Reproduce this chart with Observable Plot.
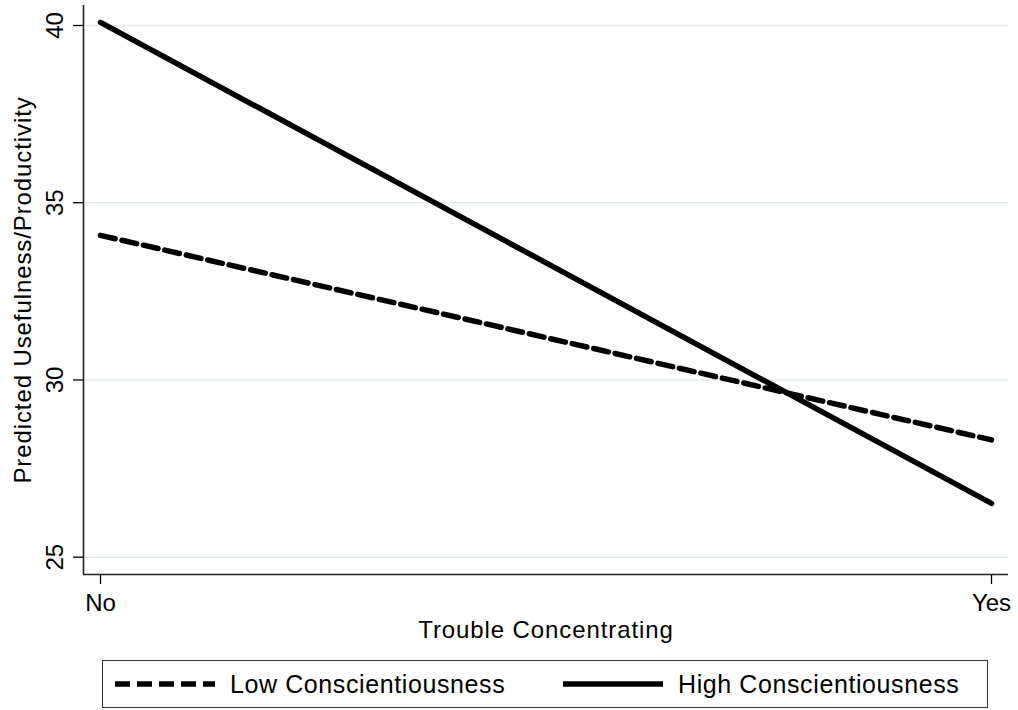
<!DOCTYPE html>
<html>
<head>
<meta charset="utf-8">
<script src="https://cdn.jsdelivr.net/npm/d3@7"></script>
<script src="https://cdn.jsdelivr.net/npm/@observablehq/plot@0.6"></script>
<style>
  html, body { margin: 0; padding: 0; background: #fff; }
  body { width: 1018px; height: 710px; position: relative; overflow: hidden; font-family: "Liberation Sans", Arial, Helvetica, sans-serif; }
  #legend { position: absolute; left: 102px; top: 660px; width: 886px; height: 48px; border: 1.5px solid #333; box-sizing: border-box; background: #fff; }
  #legend .item { position: absolute; top: 0; height: 100%; display: flex; align-items: center; }
  #legend .label { font-size: 25px; color: #000; margin-left: 15px; letter-spacing: 0.6px; }
</style>
</head>
<body>
<div id="chart"></div>
<div id="legend"></div>
<script>
// ---- data ----
const categories = ["No", "Yes"];
const seriesNames = ["Low Conscientiousness", "High Conscientiousness"];
const lowValues = [34.08, 28.31];
const highValues = [40.09, 26.52];
const yTicks = [25, 30, 35, 40];
const xTitle = "Trouble Concentrating";
const yTitle = "Predicted Usefulness/Productivity";

const rows = [];
categories.forEach((c, i) => {
  rows.push({series: seriesNames[0], idx: i, cat: c, value: lowValues[i]});
  rows.push({series: seriesNames[1], idx: i, cat: c, value: highValues[i]});
});
const lowRows = rows.filter(d => d.series === seriesNames[0]);
const highRows = rows.filter(d => d.series === seriesNames[1]);

const pad = 17 / 891;
const xDomain = [-pad, 1 + pad];
const yDomain = [24.512, 40.564];

const chart = Plot.plot({
  width: 1018,
  height: 645,
  marginTop: 5,
  marginBottom: 71,
  marginLeft: 83,
  marginRight: 10,
  style: {fontFamily: '"Liberation Sans", Arial, Helvetica, sans-serif', color: "#000", background: "#fff", overflow: "visible"},
  x: {domain: xDomain},
  y: {domain: yDomain},
  marks: [
    Plot.ruleY(yTicks, {stroke: "#e2ecf0", strokeWidth: 1.5}),
    Plot.axisY({ticks: yTicks, tickSize: 10, tickFormat: () => "", label: null, strokeWidth: 1.3}),
    Plot.text(yTicks, {y: d => d, text: d => String(d), frameAnchor: "left", dx: -21, rotate: -90, lineAnchor: "bottom", textAnchor: "middle", fontSize: 24}),
    Plot.axisX({ticks: [0, 1], tickFormat: i => categories[i], tickSize: 10, tickPadding: 9, fontSize: 24, label: null, strokeWidth: 1.3}),
    Plot.ruleY([yDomain[0]], {stroke: "#222", strokeWidth: 1.6}),
    Plot.ruleX([xDomain[0]], {stroke: "#222", strokeWidth: 1.6}),
    Plot.line(lowRows, {x: "idx", y: "value", stroke: "#000", strokeWidth: 5.5, strokeDasharray: "15,7"}),
    Plot.line(highRows, {x: "idx", y: "value", stroke: "#000", strokeWidth: 5.5, strokeLinecap: "round"}),
    Plot.text([xTitle], {frameAnchor: "bottom", dy: 63, lineAnchor: "bottom", textAnchor: "middle", fontSize: 24}),
    Plot.text([yTitle], {frameAnchor: "left", dx: -53, rotate: -90, lineAnchor: "bottom", textAnchor: "middle", fontSize: 24})
  ]
});
document.getElementById("chart").appendChild(chart);

// letter spacing for titles
d3.select(chart).selectAll("text").filter(function() {
  const t = this.textContent;
  return t === xTitle || t === yTitle;
}).attr("letter-spacing", "0.9px");

// ---- legend ----
const legend = d3.select("#legend");
const items = [
  {name: seriesNames[0], left: 12, dash: "15,7", cap: "butt"},
  {name: seriesNames[1], left: 460, dash: null, cap: "butt"}
];
items.forEach(it => {
  const div = legend.append("div").attr("class", "item").style("left", it.left + "px");
  const svg = div.append("svg").attr("width", 100).attr("height", 10);
  const ln = svg.append("line").attr("x1", 0).attr("x2", 100).attr("y1", 5).attr("y2", 5)
    .attr("stroke", "#000").attr("stroke-width", 5.5).attr("stroke-linecap", it.cap);
  if (it.dash) ln.attr("stroke-dasharray", it.dash);
  div.append("span").attr("class", "label").text(it.name);
});
</script>
</body>
</html>
